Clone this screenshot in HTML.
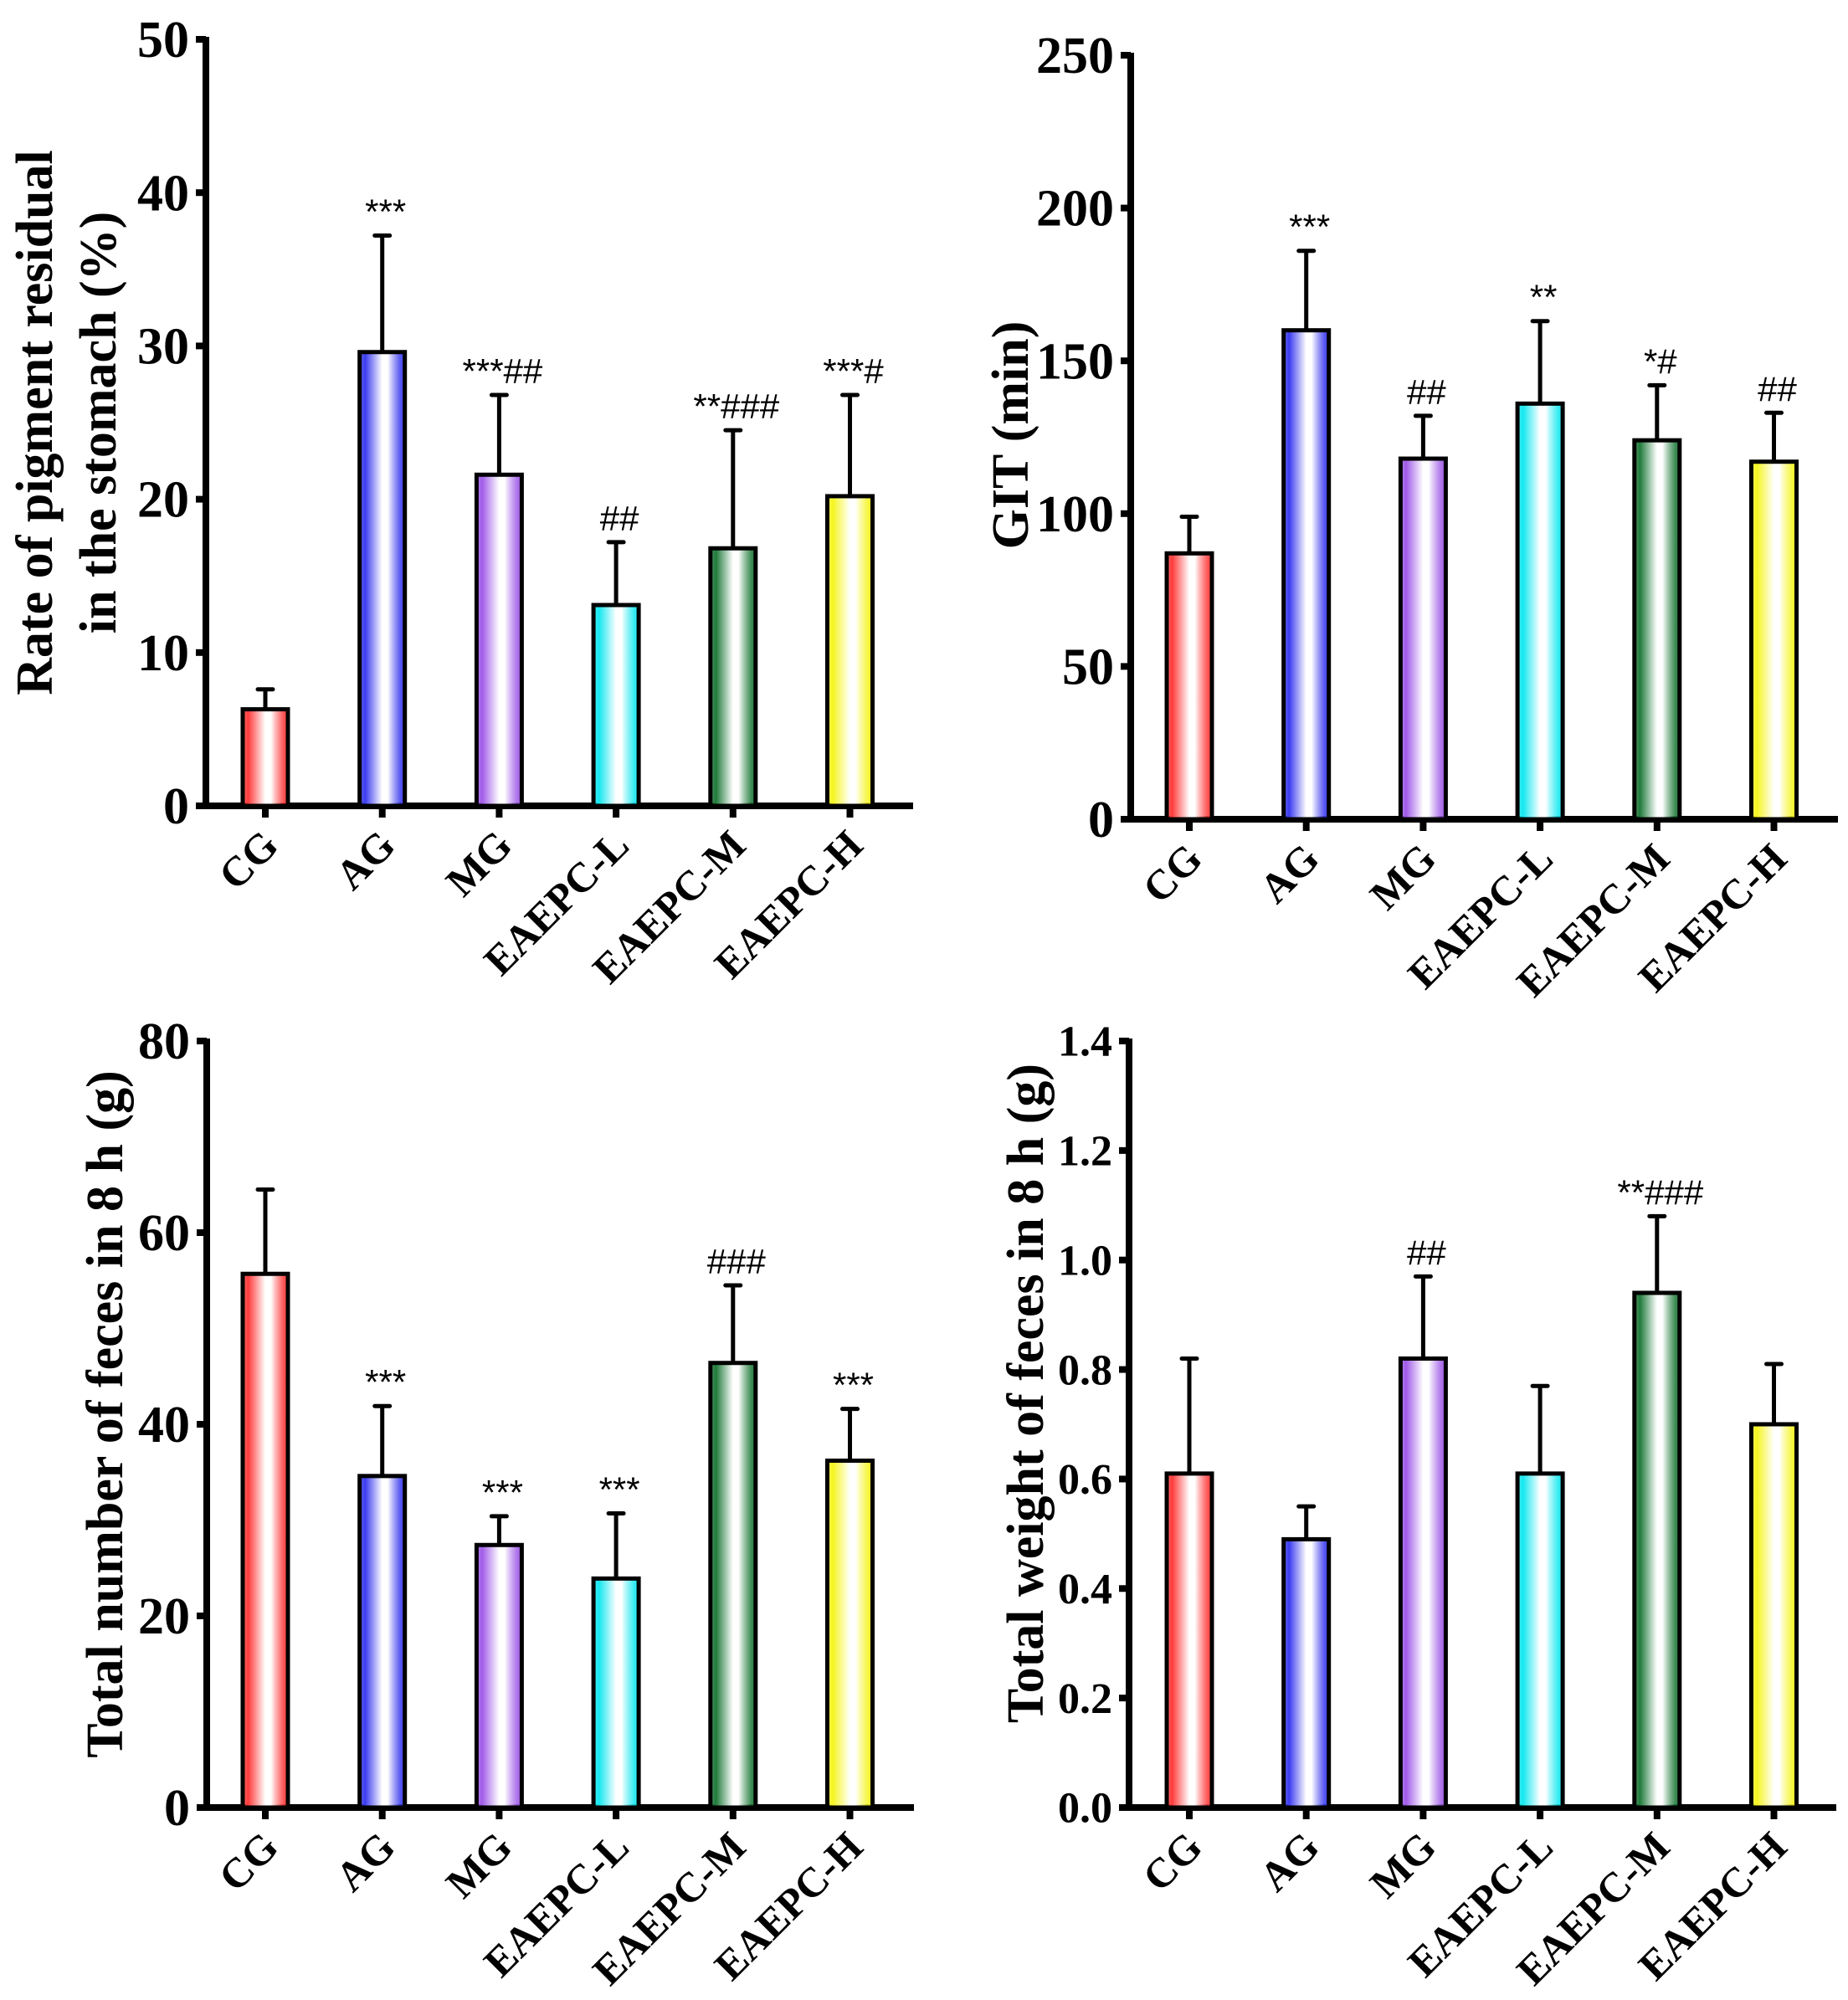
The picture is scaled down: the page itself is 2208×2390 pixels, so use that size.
<!DOCTYPE html>
<html><head><meta charset="utf-8">
<style>
html,body{margin:0;padding:0;background:#fff;}
svg{display:block;}
text{font-family:"Liberation Serif",serif;}
.tick{font-weight:bold;fill:#000;}
.xl{font-weight:bold;font-size:50px;fill:#000;}
.tt{font-weight:bold;font-size:62px;fill:#000;}
.an{font-family:"Liberation Sans",sans-serif;font-size:42px;fill:#000;}
</style></head>
<body>
<svg id="fig" width="2208" height="2390" viewBox="0 0 2208 2390" xmlns="http://www.w3.org/2000/svg">
<defs id="defs"></defs>
</svg>
<script>
const categories = ["CG","AG","MG","EAEPC-L","EAEPC-M","EAEPC-H"];
const colors = ["#ff3b3b","#3b3bf0","#a05be8","#14e8f0","#1f7a3a","#f5f520"];

const p1Values = [6.3, 29.6, 21.6, 13.1, 16.8, 20.2];
const p1Errors = [1.3, 7.6, 5.2, 4.1, 7.7, 6.6];
const p1Ticks = [0,10,20,30,40,50];
const p1TickLabels = ["0","10","20","30","40","50"];
const p1Annot = ["","***","***##","##","**###","***#"];

const p2Values = [87, 160, 118, 136, 124, 117];
const p2Errors = [12, 26, 14, 27, 18, 16];
const p2Ticks = [0,50,100,150,200,250];
const p2TickLabels = ["0","50","100","150","200","250"];
const p2Annot = ["","***","##","**","*#","##"];

const p3Values = [55.7, 34.6, 27.4, 23.9, 46.4, 36.2];
const p3Errors = [8.8, 7.3, 3.0, 6.8, 8.1, 5.4];
const p3Ticks = [0,20,40,60,80];
const p3TickLabels = ["0","20","40","60","80"];
const p3Annot = ["","***","***","***","###","***"];

const p4Values = [0.61, 0.49, 0.82, 0.61, 0.94, 0.70];
const p4Errors = [0.21, 0.06, 0.15, 0.16, 0.14, 0.11];
const p4Ticks = [0,0.2,0.4,0.6,0.8,1.0,1.2,1.4];
const p4TickLabels = ["0.0","0.2","0.4","0.6","0.8","1.0","1.2","1.4"];
const p4Annot = ["","","##","","**###",""];

const NS = "http://www.w3.org/2000/svg";
const svg = document.getElementById("fig");
const defs = document.getElementById("defs");

colors.forEach((c,i)=>{
  const g = document.createElementNS(NS,"linearGradient");
  g.setAttribute("id","grad"+i);
  g.setAttribute("x1","0");g.setAttribute("x2","1");g.setAttribute("y1","0");g.setAttribute("y2","0");
  [[0,c,0.75],[0.12,c,1],[0.5,"#ffffff",1],[0.62,"#ffffff",1],[0.9,c,0.85],[1,c,1]].forEach(s=>{
    const st=document.createElementNS(NS,"stop");
    st.setAttribute("offset",s[0]);st.setAttribute("stop-color",s[1]);st.setAttribute("stop-opacity",s[2]);
    g.appendChild(st);
  });
  defs.appendChild(g);
});

function mk(tag, attrs, parent){
  const e=document.createElementNS(NS,tag);
  for(const k in attrs) e.setAttribute(k,attrs[k]);
  (parent||svg).appendChild(e);
  return e;
}

function panel(cfg){
  const grp = mk("g",{});
  
  
  const ymax = cfg.ticks[cfg.ticks.length-1];
  const yScale = v => cfg.y0 - (v/ymax)*(cfg.y0-cfg.yTop);
  const xScale = i => cfg.x0 + i*139.7;
  const ya = mk("line",{x1:cfg.ax,y1:cfg.yTop-3,x2:cfg.ax,y2:cfg.y0+4,stroke:"#000","stroke-width":8},grp);
  
  
  const xa = mk("line",{x1:cfg.ax-12,y1:cfg.y0,x2:cfg.ax+845,y2:cfg.y0,stroke:"#000","stroke-width":8},grp);
  
  
  cfg.ticks.forEach((t,i)=>{
    const y=yScale(t);
    mk("line",{x1:cfg.ax-12,y1:y,x2:cfg.ax,y2:y,stroke:"#000","stroke-width":8},grp);
    const tl = mk("text",{x:cfg.ax-20,y:y+cfg.tickSize*0.34,"text-anchor":"end",class:"tick","font-size":cfg.tickSize},grp);
    tl.textContent = cfg.tickLabels[i];
    
    
  });
  categories.forEach((c,i)=>{
    const cx=xScale(i);
    const v=cfg.values[i], e=cfg.errors[i];
    const yt=yScale(v), ye=yScale(v+e);
    const el = mk("line",{x1:cx,y1:ye,x2:cx,y2:yt,stroke:"#000","stroke-width":5},grp);
    
    
    mk("line",{x1:cx-9,y1:ye,x2:cx+9,y2:ye,stroke:"#000","stroke-width":5,"stroke-linecap":"round"},grp);
    const r = mk("rect",{x:cx-27,y:yt,width:54,height:cfg.y0-yt,fill:"url(#grad"+i+")",stroke:"#000","stroke-width":5},grp);
    
    
    mk("line",{x1:cx,y1:cfg.y0,x2:cx,y2:cfg.y0+14,stroke:"#000","stroke-width":8},grp);
    const xl = mk("text",{x:cx+18,y:cfg.y0+50,"text-anchor":"end",class:"xl",transform:"rotate(-45 "+(cx+18)+" "+(cfg.y0+50)+")"},grp);
    xl.textContent=c;
    
    
    if(cfg.annot[i]){
      const a = mk("text",{x:cx+4,y:ye-14,"text-anchor":"middle",class:"an"},grp);
      a.textContent=cfg.annot[i];
      
      
    }
  });
  cfg.title.forEach((t,j)=>{
    const tx=cfg.titleX[j], ty=cfg.titleY;
    const tt = mk("text",{x:tx,y:ty,"text-anchor":"middle",class:"tt",transform:"rotate(-90 "+tx+" "+ty+")"},grp);
    tt.textContent=t;
    
    
  });
}

panel({name:"panel-pigment-residual",ax:246,x0:317,yTop:47,y0:963,values:p1Values,errors:p1Errors,ticks:p1Ticks,tickLabels:p1TickLabels,annot:p1Annot,tickSize:62,
  title:["Rate of pigment residual","in the stomach (%)"],titleX:[62,138],titleY:505});
panel({name:"panel-git",ax:1351,x0:1421,yTop:66,y0:979,values:p2Values,errors:p2Errors,ticks:p2Ticks,tickLabels:p2TickLabels,annot:p2Annot,tickSize:62,
  title:["GIT (min)"],titleX:[1228],titleY:520});
panel({name:"panel-feces-number",ax:247,x0:317,yTop:1244,y0:2160,values:p3Values,errors:p3Errors,ticks:p3Ticks,tickLabels:p3TickLabels,annot:p3Annot,tickSize:62,
  title:["Total number of feces in 8 h (g)"],titleX:[146],titleY:1690});
panel({name:"panel-feces-weight",ax:1349,x0:1421,yTop:1244,y0:2160,values:p4Values,errors:p4Errors,ticks:p4Ticks,tickLabels:p4TickLabels,annot:p4Annot,tickSize:52,
  title:["Total weight of feces in 8 h (g)"],titleX:[1246],titleY:1665});
</script>
</body></html>
